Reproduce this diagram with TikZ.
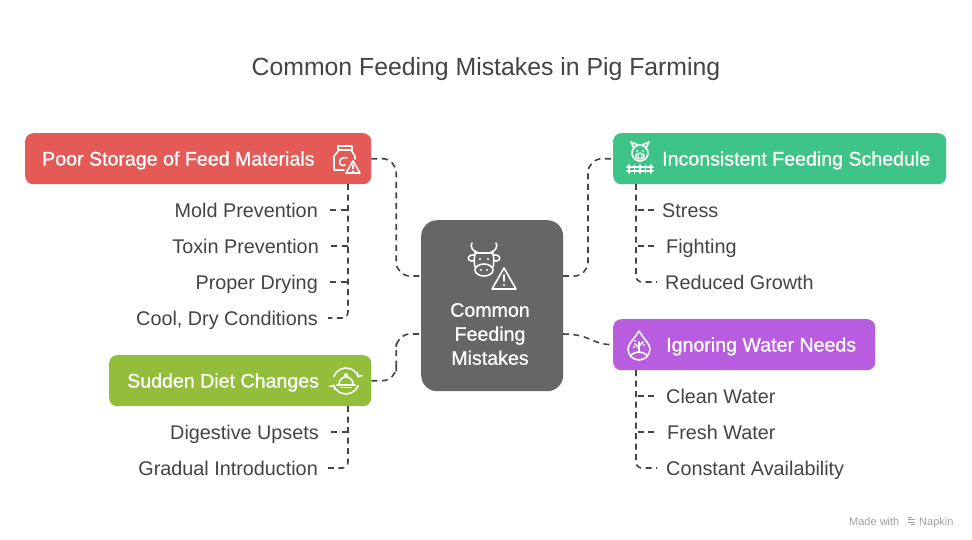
\documentclass[tikz,border=0pt]{standalone}
\usepackage{fontspec}
\setmainfont{Liberation Sans}
\newfontfamily\medfont[FakeBold=0.9]{Liberation Sans}
\usetikzlibrary{calc}
\definecolor{redc}{HTML}{E35A57}
\definecolor{greenc}{HTML}{3DC486}
\definecolor{olivec}{HTML}{93BE3B}
\definecolor{purplec}{HTML}{B85CE0}
\definecolor{darkc}{HTML}{666666}
\definecolor{txtc}{HTML}{444444}
\definecolor{linec}{HTML}{444444}
\definecolor{markc}{HTML}{A0A0A0}
\begin{document}
\begin{tikzpicture}[x=1pt,y=-1pt,
  box/.style={rounded corners=8pt, minimum height=51pt, anchor=north west, inner sep=0pt, draw=none},
  head/.style={text=white, font=\medfont\fontsize{19.6}{22}\selectfont, inner sep=0pt, text height=14pt, text depth=0pt},
  sub/.style={text=txtc, font=\fontsize{19.8}{22}\selectfont, inner sep=0pt, text height=14pt, text depth=0pt},
  conn/.style={draw=linec, line width=1.6pt, dash pattern=on 6pt off 4.5pt},
  ico/.style={draw=white, line width=1.6pt, line cap=round, line join=round}]
\useasboundingbox (0,0) rectangle (972,539);
\fill[white] (0,0) rectangle (972,539);

% title
\node[text=txtc, font=\fontsize{24.8}{28}\selectfont, inner sep=0pt, anchor=base] (title) at (486,75) {Common Feeding Mistakes in Pig Farming};

% boxes
\node[box, fill=redc, minimum width=346pt] (red) at (25,133) {};
\node[box, fill=greenc, minimum width=333pt] (grn) at (613,133) {};
\node[box, fill=olivec, minimum width=262pt] (oli) at (109,355) {};
\node[box, fill=purplec, minimum width=262pt] (pur) at (613,319) {};
\node[box, fill=darkc, minimum width=142pt, minimum height=171pt, rounded corners=16pt] (ctr) at (421,220) {};

% headings
\node[head, anchor=west] (redt) at (42,158.5) {Poor Storage of Feed Materials};
\node[head, anchor=west] (grnt) at (662,158.5) {Inconsistent Feeding Schedule};
\node[head, anchor=west] (olit) at (127,380.5) {Sudden Diet Changes};
\node[head, anchor=west] (purt) at (666,344.5) {Ignoring Water Needs};
\node[text=white, font=\medfont\fontsize{19.6}{24}\selectfont, align=center, inner sep=0pt] (ctrt) at (490,334) {Common\\Feeding\\Mistakes};

% sub items left
\node[sub, anchor=east] (a1) at (318,210) {Mold Prevention};
\node[sub, anchor=east] (a2) at (319,246) {Toxin Prevention};
\node[sub, anchor=east] (a3) at (318,282) {Proper Drying};
\node[sub, anchor=east] (a4) at (318,318) {Cool, Dry Conditions};
\node[sub, anchor=east] (b1) at (319,432) {Digestive Upsets};
\node[sub, anchor=east] (b2) at (318,468) {Gradual Introduction};
% sub items right
\node[sub, anchor=west] (c1) at (662,210) {Stress};
\node[sub, anchor=west] (c2) at (666,246) {Fighting};
\node[sub, anchor=west] (c3) at (665,282) {Reduced Growth};
\node[sub, anchor=west] (d1) at (666,396) {Clean Water};
\node[sub, anchor=west] (d2) at (667,432) {Fresh Water};
\node[sub, anchor=west] (d3) at (666,468) {Constant Availability};

% connection points
\coordinate (redb) at (348,184);
\coordinate (olib) at (348,406);
\coordinate (grnb) at (636,184);
\coordinate (purb) at (636,370);
\coordinate (cl1) at (421,276);
\coordinate (cl2) at (421,334);
\coordinate (cr1) at (563,276);
\coordinate (cr2) at (563,334);

% main connectors
\draw[conn, rounded corners=14pt] (red.east) -| ($(red.east)!0.5!(cl1)$) |- (cl1);
\draw[conn, rounded corners=14pt] (oli.east) -| ($(oli.east)!0.5!(cl2)$) |- (cl2);
\draw[conn, rounded corners=14pt] (cr1) -| ($(cr1)!0.5!(grn.west)$) |- (grn.west);
\draw[conn] (cr2) .. controls +(28,0) and +(-22,0) .. (pur.west);

% sub connectors left
\draw[conn, rounded corners=6pt] (redb) |- ([xshift=10pt]a4.east);
\foreach \n in {a1,a2,a3} \draw[conn] ([xshift=12pt]\n.east) -- (\n.east -| redb);
\draw[conn, rounded corners=6pt] (olib) |- ([xshift=10pt]b2.east);
\draw[conn] ([xshift=12pt]b1.east) -- (b1.east -| olib);
% sub connectors right
\draw[conn, rounded corners=6pt] (grnb) |- ([xshift=-8pt]c3.west);
\draw[conn] ([xshift=-8pt]c1.west) -- (c1.west -| grnb);
\draw[conn] ([xshift=-12pt]c2.west) -- (c2.west -| grnb);
\draw[conn, rounded corners=6pt] (purb) |- ([xshift=-9pt]d3.west);
\draw[conn] ([xshift=-12pt]d1.west) -- (d1.west -| purb);
\draw[conn] ([xshift=-13pt]d2.west) -- (d2.west -| purb);

% icon: milk can with warning
\begin{scope}[shift={(345,159)}, ico]
  \draw (-7,-13) -- (7,-13) -- (7,-9) -- (-7,-9) -- cycle;
  \draw (-6,-9) -- (-11,-3) -- (-11,11) -- (-1,11);
  \draw (6,-9) -- (10,-3) -- (10,0);
  \draw (2,-1) .. controls (-2,-3) and (-7,1) .. (-5,5) .. controls (-4,7) and (-1,7) .. (0,6);
  \draw[fill=redc] (1,14) -- (8,2) -- (15,14) -- cycle;
  \draw (8,6) -- (8,9.5);
  \fill[white] (8,12) circle (1);
\end{scope}

% icon: pig with fence
\begin{scope}[shift={(640,152)}, ico]
  \draw (0,1) circle (8);
  \draw (-6,-4) -- (-9,-10) -- (-3,-7.5);
  \draw (6,-4) -- (9,-10) -- (3,-7.5);
  \draw (0,4) ellipse (4.2 and 2.8);
  \fill[white] (-1.5,4) circle (0.8) (1.5,4) circle (0.8);
  \fill[white] (-3,-1) circle (1) (3,-1) circle (1);
  \draw (-13,15) -- (13,15) (-13,19) -- (13,19);
  \foreach \x in {-11,-5.5,0,5.5,11} \draw (\x,13) -- (\x,21);
\end{scope}

% icon: cow with warning
\begin{scope}[shift={(484,261)}, ico]
  \draw (-7,-9) .. controls (-12,-10) and (-14,-15) .. (-12,-18);
  \draw (7,-9) .. controls (12,-10) and (14,-15) .. (12,-18);
  \draw (-9,-8) -- (9,-8);
  \draw (-9,-8) .. controls (-10,-2) and (-10,3) .. (-9,6);
  \draw (9,-8) .. controls (10,-2) and (10,3) .. (9,6);
  \draw (-9,-6) .. controls (-15,-7) and (-17,-3) .. (-15,-1) .. controls (-13,1) and (-11,0) .. (-9.5,-1);
  \draw (9,-6) .. controls (15,-7) and (17,-3) .. (15,-1) .. controls (13,1) and (11,0) .. (9.5,-1);
  \draw (0,9) ellipse (9 and 6);
  \fill[white] (-3,9) circle (1.1) (3,9) circle (1.1);
  \fill[white] (-4,-2) circle (1.2) (4,-2) circle (1.2);
  \draw[fill=darkc] (8,28) -- (20,7) -- (32,28) -- cycle;
  \draw (20,14) -- (20,20);
  \fill[white] (20,24) circle (1.2);
\end{scope}

% icon: cloche with circular arrows
\begin{scope}[shift={(346,381)}, ico]
  \draw (200:13) arc (200:340:13);
  \draw (20:13) arc (20:160:13);
  \draw (340:13) -- ++(4,-1) (340:13) -- ++(-1,-4);
  \draw (160:13) -- ++(-4,1) (160:13) -- ++(1,4);
  \draw (-7,3) arc (180:360:7);
  \draw (-9,4) -- (9,4);
  \draw (0,-6) circle (1.3);
  \draw (-5,6.5) -- (5,6.5);
\end{scope}

% icon: water drop with plant
\begin{scope}[shift={(639,346)}, ico]
  \draw (0,-15) .. controls (4,-8) and (11,-2) .. (11,3) arc (0:180:11) .. controls (-11,-2) and (-4,-8) .. (0,-15);
  \draw (-8,9) .. controls (-3,5) and (3,5) .. (8,9);
  \draw (0,6) -- (0,-4);
  \draw (0,2) -- (-4,-2) (0,0) -- (4,-4);
  \fill[white] (-4,-5) circle (1.1) (5,-1) circle (1.1) (-5,1) circle (1.1);
\end{scope}

% watermark
\node[text=markc, font=\fontsize{11}{13}\selectfont, inner sep=0pt, anchor=base west] (mw) at (849,525) {Made with};
\node[text=markc, font=\fontsize{11}{13}\selectfont, inner sep=0pt, anchor=base west] (mn) at (919,525) {Napkin};
\begin{scope}[shift={(912,521)}, draw=markc, line width=0.9pt]
  \draw (-4,-4) -- (0,-4) (-4,-1.5) -- (3,-1.5) (-4,1) -- (3,1) (-1,3.5) -- (3,3.5);
\end{scope}
\end{tikzpicture}
\end{document}
